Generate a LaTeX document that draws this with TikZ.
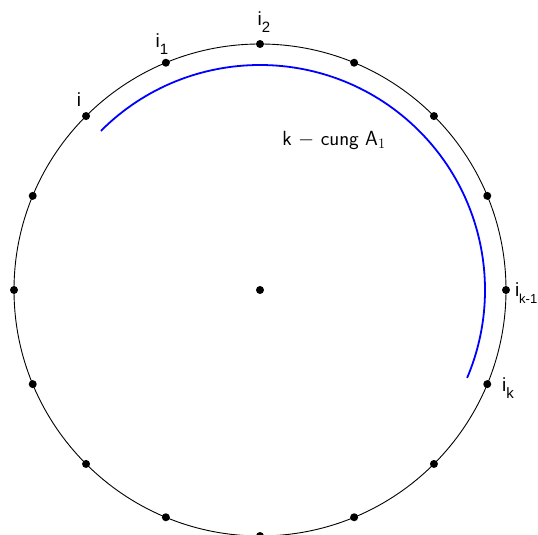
\documentclass[tikz,border=0pt]{standalone}
\usepackage{fontspec}
\usetikzlibrary{calc}
\newfontfamily\lab{Liberation Sans}
\newcommand\idx[2][15]{{\lab\fontsize{19}{19}\selectfont i\raisebox{-7pt}{\fontsize{#1}{#1}\selectfont #2}}}
\begin{document}
\begin{tikzpicture}[x=1pt,y=1pt,
  dotstyle/.style={circle,fill=black,inner sep=0pt,minimum size=8pt},
  lbl/.style={inner sep=0pt}]
\useasboundingbox (0,0) rectangle (538,535);
\coordinate (O) at (260,245);
\draw[line width=0.9pt] (O) circle[radius=246];
\node[dotstyle] (c) at (O) {};
\foreach \k in {0,...,15}{
  \node[dotstyle] (p\k) at ($(O)+({\k*22.5}:246)$) {};
}
\draw[blue,line width=1.8pt] ($(O)+(135:225)$) arc[start angle=135,end angle=-23,radius=225];
\node[lbl] (l2) at (264,513) {\idx{2}};
\node[lbl] (l1) at (162,491) {\idx{1}};
\node[lbl] (l0) at (79,432) {\idx{}};
\node[lbl,anchor=east] (lk1) at (537.5,242) {\idx[13]{k-1}};
\node[lbl] (lk) at (508,147) {\idx{k}};
\node[lbl] (t) at (334,395) {\fontsize{20.5}{24}\selectfont\sffamily k $-$ cung A$_1$};
\end{tikzpicture}
\end{document}
